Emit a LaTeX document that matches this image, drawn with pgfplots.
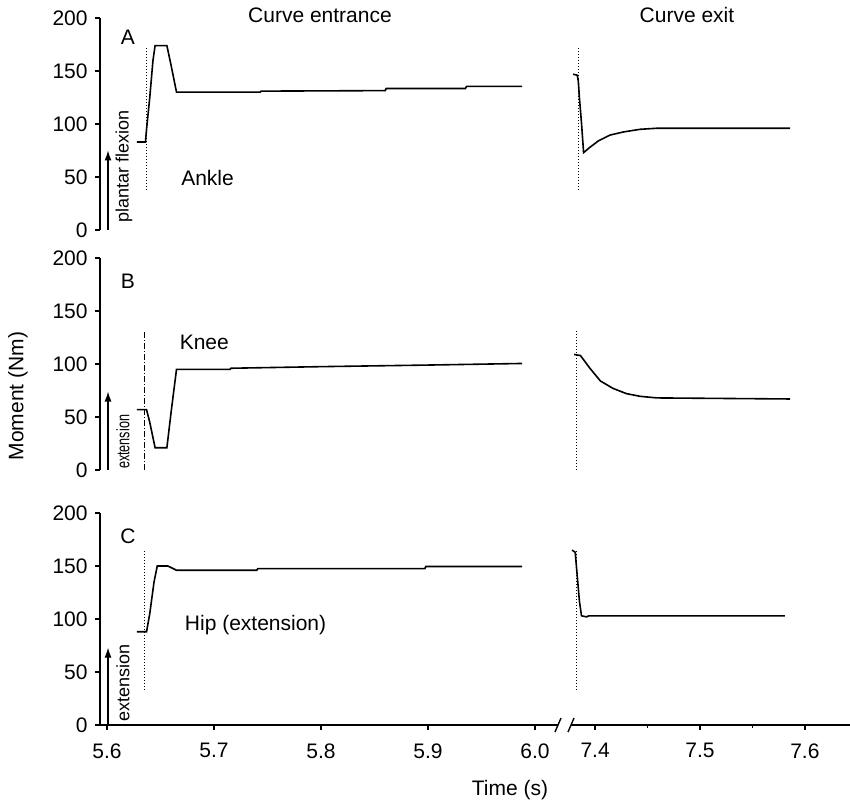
\documentclass[border=0pt]{standalone}
\usepackage{pgfplots}
\pgfplotsset{compat=1.18}
\usetikzlibrary{arrows.meta}
\usepackage{fontspec}
\setmainfont{Liberation Sans}
\begin{document}
\fontsize{10.5}{12.5}\selectfont
\begin{tikzpicture}
\useasboundingbox (0,0) rectangle (425pt,402pt);
\tikzset{up/.style={-{Latex[length=5pt,width=3.5pt]}, line width=0.6pt}}
\pgfplotsset{
  panel/.style={scale only axis, height=106pt, ymin=0, ymax=200, clip=false,
    tick align=outside, major tick length=2.5pt, minor tick length=1.5pt,
    axis line style={line width=0.7pt}, tick style={line width=0.7pt,black},
    every tick label/.append style={font=\fontsize{10.5}{12}\selectfont},
    /pgf/number format/assume math mode=true},
  lpanel/.style={panel, width=229pt, xmin=5.5935, xmax=6.0215,
    axis y line*=left, ytick={0,50,...,200}},
  rpanel/.style={panel, width=139.5pt, xmin=7.377, xmax=7.643},
  curve/.style={black, line width=0.8pt, no marks},
  marker/.style={black, line width=0.5pt, densely dotted, no marks},
}

% ---- A: ankle ----
\begin{axis}[lpanel, at={(50pt,287pt)}, anchor=south west, axis x line=none, xtick=\empty]
\addplot[curve] coordinates {
  (5.628,83) (5.636,83) (5.637,95) (5.640,125) (5.643,160) (5.645,174)
  (5.656,174) (5.660,155) (5.665,130) (5.743,130) (5.744,131) (5.860,131.5)
  (5.861,133.5) (5.935,133.5) (5.936,135.5) (5.988,135.5)
};
\addplot[marker] coordinates {(5.637,38) (5.637,172)};
\draw[up] (axis cs:5.601,0) -- (axis cs:5.601,75);
\node[rotate=90, font=\fontsize{9}{10}\selectfont] at (axis cs:5.616,60) {plantar flexion};
\node at (axis cs:5.6196,182) {A};
\node at (axis cs:5.694,49) {Ankle};
\end{axis}
\begin{axis}[rpanel, at={(285.5pt,287pt)}, anchor=south west, hide axis]
\addplot[curve] coordinates {
  (7.379,147) (7.383,146) (7.384,140) (7.385,125) (7.387,101) (7.389,73)
  (7.395,78) (7.403,84) (7.414,89.5) (7.427,92.5) (7.443,95) (7.459,96) (7.586,96)
};
\addplot[marker] coordinates {(7.384,38) (7.384,172)};
\end{axis}

% ---- B: knee ----
\begin{axis}[lpanel, at={(50pt,167pt)}, anchor=south west, axis x line=none, xtick=\empty]
\addplot[curve] coordinates {
  (5.628,57) (5.637,57) (5.640,45) (5.645,21) (5.656,21) (5.660,55) (5.665,95)
  (5.715,95) (5.716,96) (5.800,97.5) (5.900,99) (5.988,100.5)
};
\addplot[black, line width=0.5pt, densely dashdotted, no marks] coordinates {(5.635,0) (5.635,132)};
\draw[up] (axis cs:5.601,0) -- (axis cs:5.601,74);
\node[rotate=90, font=\fontsize{9}{10}\selectfont] at (axis cs:5.615,26.5) {\scalebox{0.7}[1]{extension}};
\node at (axis cs:5.6196,178) {B};
\node at (axis cs:5.691,120) {Knee};
\end{axis}
\begin{axis}[rpanel, at={(285.5pt,167pt)}, anchor=south west, hide axis]
\addplot[curve] coordinates {
  (7.380,109) (7.386,108) (7.395,96) (7.405,84) (7.417,77) (7.430,72)
  (7.443,69.5) (7.459,68) (7.586,67)
};
\addplot[marker] coordinates {(7.382,0) (7.382,133)};
\end{axis}

% ---- C: hip ----
\begin{axis}[lpanel, at={(50pt,39.5pt)}, anchor=south west, axis x line*=bottom,
  xtick={5.6,5.7,5.8,5.9,6.0},
  xticklabel style={yshift=-3pt, /pgf/number format/.cd, fixed, fixed zerofill, precision=1}]
\addplot[curve] coordinates {
  (5.628,88) (5.637,88) (5.640,105) (5.644,135) (5.647,150) (5.657,150)
  (5.661,148) (5.665,146) (5.740,146) (5.741,147.5) (5.897,147.5) (5.898,149.5) (5.988,149.5)
};
\addplot[marker] coordinates {(5.6355,33) (5.6355,164)};
\draw[up] (axis cs:5.601,0) -- (axis cs:5.601,73);
\node[rotate=90, font=\fontsize{9}{10}\selectfont] at (axis cs:5.615,40) {extension};
\node at (axis cs:5.6196,178) {C};
\node[anchor=west] at (axis cs:5.666,94) {Hip (extension)};
\end{axis}
\begin{axis}[rpanel, at={(285.5pt,39.5pt)}, anchor=south west, axis x line*=bottom,
  axis y line=none, ytick=\empty, xtick={7.4,7.5,7.6}, minor xtick={7.45,7.55},
  xticklabel style={yshift=-3pt, /pgf/number format/.cd, fixed, fixed zerofill, precision=1}]
\addplot[curve] coordinates {
  (7.378,165) (7.381,163) (7.383,140) (7.385,117) (7.387,103) (7.392,102)
  (7.394,103) (7.581,103)
};
\addplot[marker] coordinates {(7.382,33) (7.382,164)};
\end{axis}

% axis break and shared labels
\draw[line width=0.7pt] (277.5pt,36pt) -- (280.5pt,43pt);
\draw[line width=0.7pt] (284pt,36pt) -- (287pt,43pt);
\node[rotate=90] at (9pt,204pt) {Moment (Nm)};
\node at (255pt,7pt) {Time (s)};
\node at (160pt,394.5pt) {Curve entrance};
\node at (343.5pt,394.5pt) {Curve exit};
\end{tikzpicture}
\end{document}
